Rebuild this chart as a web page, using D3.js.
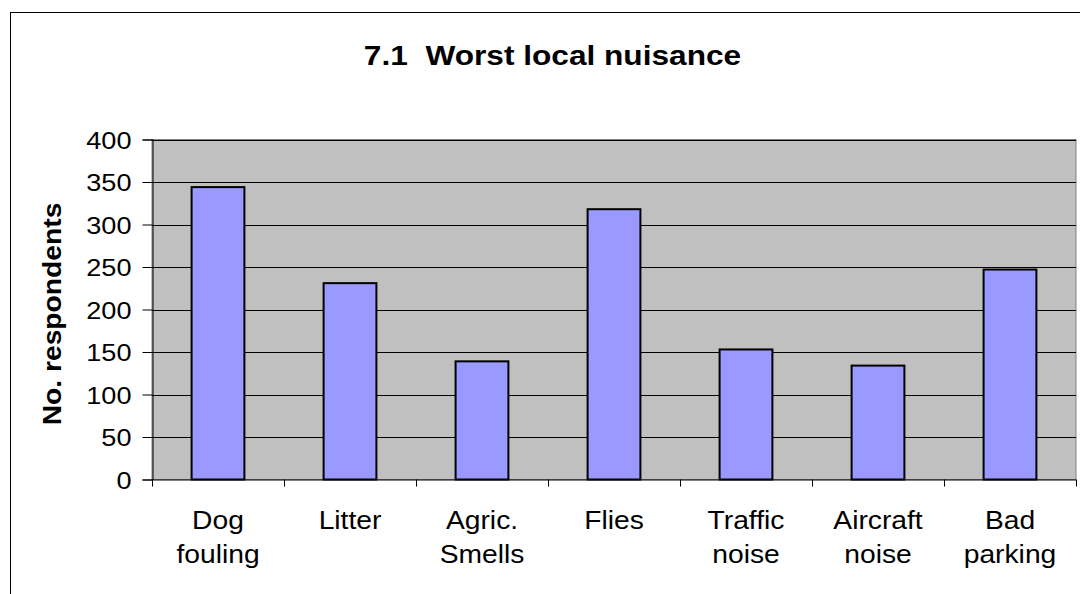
<!DOCTYPE html>
<html><head><meta charset="utf-8">
<script src="https://cdn.jsdelivr.net/npm/d3@7"></script>
<style>body{margin:0;background:#fff;}svg{display:block;font-family:"Liberation Sans",Arial,sans-serif;}</style>
</head><body>
<svg id="c" width="1080" height="594"></svg>
<script>
const categories = [["Dog","fouling"],["Litter"],["Agric.","Smells"],["Flies"],["Traffic","noise"],["Aircraft","noise"],["Bad","parking"]];
const values = [344, 231, 139, 318, 153, 134, 247];
const yTicks = [0,50,100,150,200,250,300,350,400];
const title = "7.1\u00a0\u00a0Worst local nuisance";
const yTitle = "No. respondents";

const SX = 1.13; // horizontal stretch of the reference text
const svg = d3.select("#c");
const m = {left:152, right:1076, top:139.5, bottom:479.5};

svg.append("rect").attr("x",10.5).attr("y",12.5).attr("width",1100).attr("height",700)
  .attr("fill","#fff").attr("stroke","#000").attr("stroke-width",1);

const x = d3.scaleBand().domain(d3.range(categories.length)).range([m.left,m.right]).paddingInner(0.6).paddingOuter(0.3);
const xb = d3.scaleBand().domain(d3.range(categories.length)).range([m.left,m.right]);
const y = d3.scaleLinear().domain([0,400]).range([m.bottom,m.top]);

svg.append("rect").attr("x",m.left).attr("y",m.top).attr("width",m.right-m.left).attr("height",m.bottom-m.top)
  .attr("fill","#c0c0c0").attr("stroke","#808080").attr("stroke-width",1);

svg.append("g").selectAll("line").data(yTicks.filter(d=>d>0)).join("line")
  .attr("x1",m.left).attr("x2",m.right).attr("y1",d=>Math.round(y(d))+0.5).attr("y2",d=>Math.round(y(d))+0.5)
  .attr("stroke","#000").attr("stroke-width",1);

svg.append("g").selectAll("rect").data(values).join("rect")
  .attr("x",(d,i)=>x(i)).attr("width",x.bandwidth())
  .attr("y",d=>y(d)).attr("height",d=>y(0)-y(d))
  .attr("fill","#9999ff").attr("stroke","#000").attr("stroke-width",2);

// y axis
const ya = d3.axisLeft(y).tickValues(yTicks).tickSize(10).tickFormat(d3.format("d"));
const gy = svg.append("g").attr("transform",`translate(${m.left+0.5},0)`).call(ya);
gy.select(".domain").attr("stroke","#000");
gy.selectAll(".tick line").attr("stroke","#000");
gy.selectAll(".tick text").attr("x",null).attr("dy",null)
  .attr("transform",`translate(-21,8.5) scale(${SX},1)`)
  .attr("text-anchor","end").attr("font-size",24).attr("fill","#000")
  .attr("font-family","Liberation Sans, Arial, sans-serif");

// x axis
const gx = svg.append("g").attr("transform",`translate(0,${m.bottom})`);
gx.append("line").attr("x1",m.left).attr("x2",m.right).attr("y1",0.5).attr("y2",0.5).attr("stroke","#000");
gx.selectAll("line.t").data(d3.range(categories.length+1)).join("line").attr("class","t")
  .attr("x1",i=>Math.round(m.left+i*xb.bandwidth())+0.5).attr("x2",i=>Math.round(m.left+i*xb.bandwidth())+0.5)
  .attr("y1",0).attr("y2",7).attr("stroke","#000");
const lbl = gx.selectAll("g.l").data(categories).join("g").attr("class","l")
  .attr("transform",(d,i)=>`translate(${xb(i)+xb.bandwidth()/2},0) scale(${SX},1)`);
lbl.each(function(d){
  const g = d3.select(this);
  d.forEach((s,j)=>g.append("text").attr("x",0).attr("y",49.5+j*34).attr("text-anchor","middle")
    .attr("font-size",25).attr("fill","#000").text(s));
});

svg.append("text").attr("transform",`translate(552.5,65) scale(${SX},1)`).attr("text-anchor","middle")
  .attr("font-size",28).attr("font-weight","bold").text(title);
svg.append("text").attr("transform",`translate(61,314) rotate(-90) scale(${SX},1)`).attr("text-anchor","middle")
  .attr("font-size",25).attr("font-weight","bold").text(yTitle);
</script>
</body></html>
